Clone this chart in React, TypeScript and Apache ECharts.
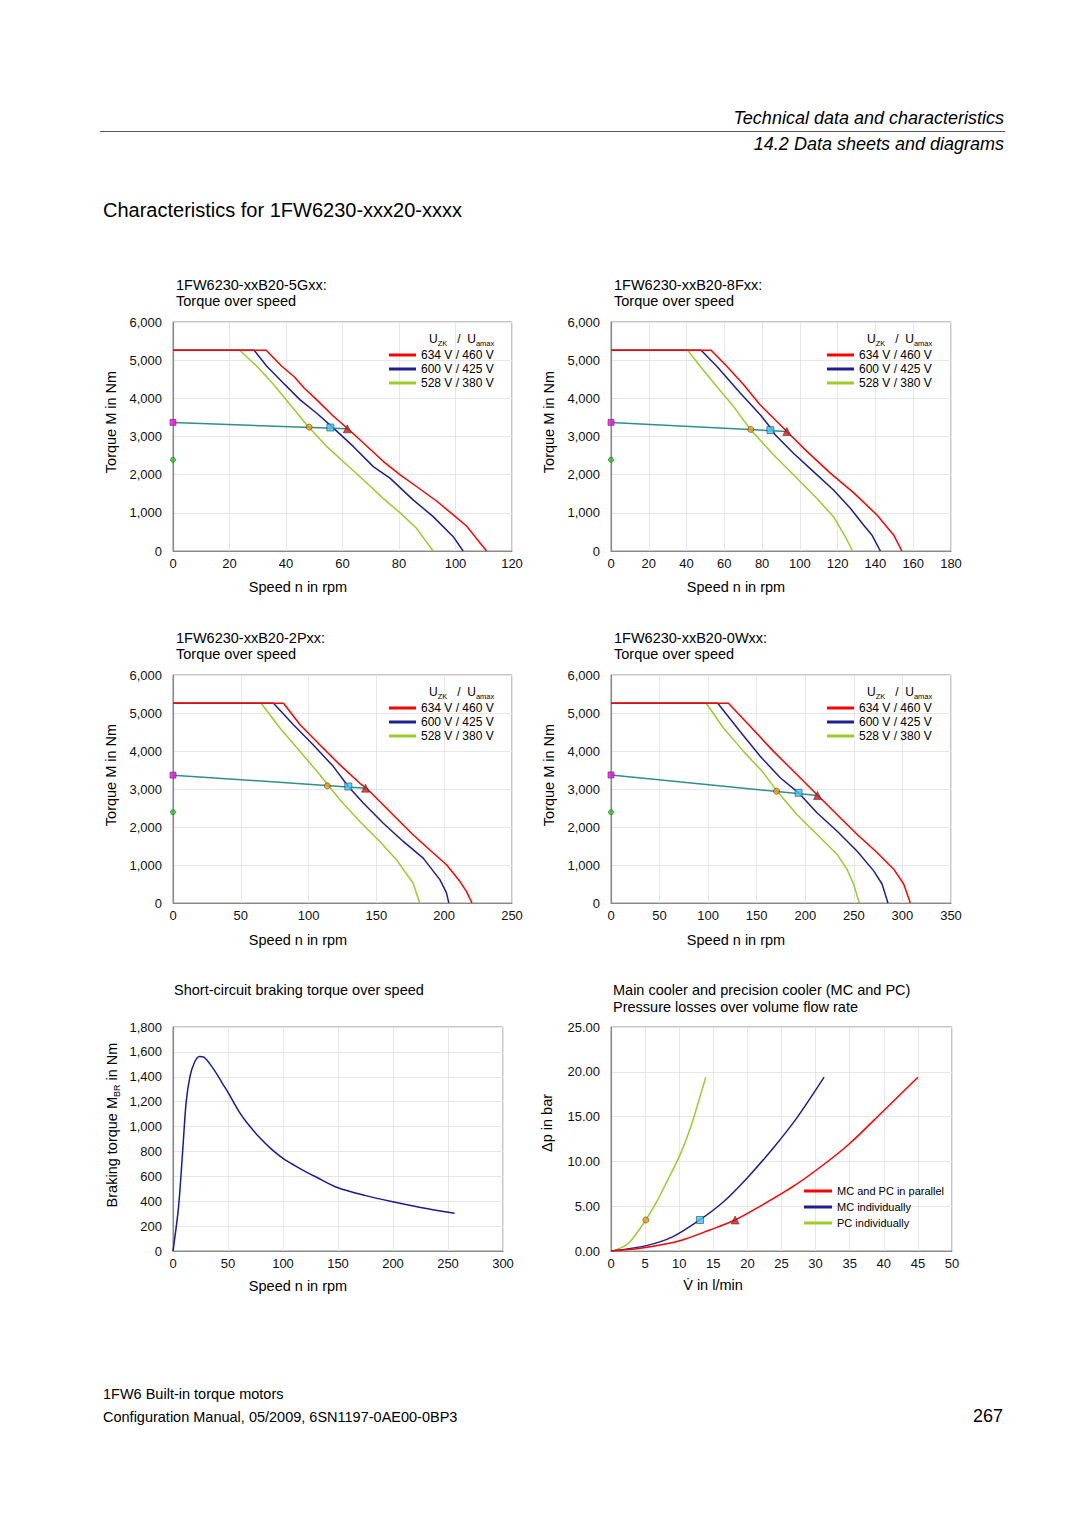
import React, { useEffect, useRef } from "react";
import * as echarts from "echarts";

const FONT = "'Liberation Sans', Arial, sans-serif";

// ---------- Text ----------
const motorTitles = ["1FW6230-xxB20-5Gxx:", "1FW6230-xxB20-8Fxx:", "1FW6230-xxB20-2Pxx:", "1FW6230-xxB20-0Wxx:"];
const voltageNames = ["634 V / 460 V", "600 V / 425 V", "528 V / 380 V"];
const coolerNames = ["MC and PC in parallel", "MC individually", "PC individually"];

// ---------- Axis ranges ----------
const motorXMax = [120, 180, 250, 350];
const motorXInterval = [20, 20, 50, 50];

// ---------- 1FW6230-xxB20-5Gxx ----------
const red5G: number[][] = [[0, 5260], [33, 5260], [38.5, 4840], [43, 4560], [46.4, 4270], [50.9, 3960], [56.8, 3530], [62.1, 3190], [67.4, 2830], [74.4, 2350], [80.3, 2000], [86.2, 1690], [93.3, 1310], [99.2, 945], [103.9, 655], [107.4, 330], [111, 0]];
const blue5G: number[][] = [[0, 5260], [28.7, 5260], [33.2, 4840], [38.5, 4440], [45, 3960], [50.9, 3610], [56.8, 3220], [63.8, 2740], [70.9, 2210], [76.8, 1910], [85, 1340], [92.1, 900], [99.2, 375], [102.7, 0]];
const green5G: number[][] = [[0, 5260], [23.6, 5260], [29.7, 4840], [35.6, 4360], [41.5, 3830], [47.3, 3310], [54.4, 2740], [61.5, 2260], [68.6, 1780], [74.4, 1380], [80.3, 1005], [86.2, 595], [89.2, 290], [92.1, 0]];
const pts5G: number[][] = [[0, 3370], [0, 2390], [48.2, 3245], [55.7, 3235], [61.7, 3200]];

// ---------- 1FW6230-xxB20-8Fxx ----------
const red8F: number[][] = [[0, 5260], [53, 5260], [61.3, 4840], [70.1, 4360], [78.9, 3830], [93.1, 3130], [103.7, 2610], [116.1, 2040], [128.4, 1530], [140.8, 945], [149.6, 420], [154, 0]];
const blue8F: number[][] = [[0, 5260], [47.7, 5260], [56, 4840], [68.4, 4140], [79, 3570], [85.1, 3190], [86.9, 3045], [96.6, 2560], [107.2, 2080], [117.8, 1600], [126.7, 1120], [133.7, 680], [138.1, 420], [142.6, 0]];
const green8F: number[][] = [[0, 5260], [40.6, 5260], [47.2, 4840], [56, 4310], [64.8, 3790], [73.7, 3190], [86, 2520], [96.6, 2000], [108.9, 1380], [117.8, 900], [124, 375], [127.9, 0]];
const pts8F: number[][] = [[0, 3370], [0, 2390], [74, 3185], [84.4, 3167], [93.1, 3132]];

// ---------- 1FW6230-xxB20-2Pxx ----------
const red2P: number[][] = [[0, 5255], [81.5, 5255], [93.7, 4690], [108.4, 4160], [123.1, 3635], [137.8, 3150], [142.7, 3020], [152.5, 2670], [164.8, 2230], [177, 1795], [191.9, 1315], [201.7, 1005], [211.5, 570], [216.4, 305], [220.5, 0]];
const blue2P: number[][] = [[0, 5255], [74.1, 5255], [88.8, 4690], [103.5, 4160], [118.3, 3590], [129.3, 3065], [140.3, 2630], [155.1, 2100], [169.8, 1620], [184.5, 1180], [196.8, 615], [201.7, 265], [203.4, 0]];
const green2P: number[][] = [[0, 5255], [65, 5255], [79, 4600], [93.7, 3985], [108.4, 3370], [123.1, 2715], [137.8, 2145], [152.5, 1620], [164.8, 1140], [170.9, 830], [177, 525], [182, 0]];
const pts2P: number[][] = [[0, 3365], [0, 2390], [113.8, 3083], [129.3, 3066], [142, 3022]];

// ---------- 1FW6230-xxB20-0Wxx ----------
const red0W: number[][] = [[0, 5258], [120.9, 5258], [143.2, 4650], [167.3, 3990], [191.3, 3380], [211.9, 2855], [232.6, 2330], [253.2, 1810], [273.8, 1330], [291, 890], [301.3, 500], [308.1, 0]];
const blue0W: number[][] = [[0, 5258], [109.9, 5258], [132.9, 4515], [153.6, 3860], [174.2, 3295], [193.1, 2900], [212, 2375], [232.6, 1895], [253.2, 1370], [270.4, 845], [279, 500], [285.1, 0]];
const green0W: number[][] = [[0, 5258], [97.9, 5258], [115.8, 4605], [136.4, 3990], [157, 3425], [170.8, 2945], [191.3, 2330], [211.9, 1810], [232.6, 1285], [242.9, 890], [249.7, 500], [255.6, 0]];
const pts0W: number[][] = [[0, 3370], [0, 2390], [170.4, 2943], [193.1, 2900], [212.6, 2830]];

// ---------- Short-circuit braking torque ----------
const brakeSpeed = [0, 5, 9, 12, 15.5, 19.5, 24, 28, 33, 40, 45, 50, 60, 70, 80, 90, 100, 110, 120, 130, 150, 175, 200, 225, 256];
const brakeTorque = [0, 350, 830, 1200, 1405, 1515, 1563, 1558, 1510, 1420, 1345, 1275, 1120, 1000, 900, 815, 745, 690, 640, 595, 508, 445, 395, 350, 303];

// ---------- Cooler pressure losses ----------
const parallelFlow: number[][] = [[0, 0], [4.25, 0.3], [10.1, 1.15], [14.5, 2.35], [18.2, 3.46], [21.8, 4.96], [26.7, 7.2], [31.1, 9.6], [35, 12], [39.9, 15.6], [45, 19.4]];
const mcFlow: number[][] = [[0, 0], [5.2, 0.6], [9.1, 1.6], [13, 3.46], [16.5, 5.5], [19.9, 8.1], [23.8, 11.5], [27.2, 14.8], [31.25, 19.4]];
const pcFlow: number[][] = [[0, 0], [1.3, 0.3], [2.8, 1.04], [5.1, 3.46], [6.7, 5.5], [8.2, 7.75], [10.1, 10.7], [11.8, 14.1], [13, 17.1], [13.9, 19.4]];
const coolerPts: number[][] = [[5.1, 3.46], [13.05, 3.46], [18.2, 3.46]];

const RED = "#ff0000";
const BLUE = "#1f1f8f";
const GREEN = "#9acc2a";
const TEAL = "#2e8f8f";

const markerStyles = [
  { symbol: "rect", size: 6, color: "#ff00ff" },
  { symbol: "circle", size: 5, color: "#11dd11" },
  { symbol: "circle", size: 6, color: "#ff9a00" },
  { symbol: "rect", size: 7, color: "#33ccff" },
  { symbol: "triangle", size: 8, color: "#dd1111" },
];

const grids = [
  { left: 173, top: 322, width: 339, height: 229 },
  { left: 611, top: 322, width: 340, height: 229 },
  { left: 173, top: 675, width: 339, height: 228 },
  { left: 611, top: 675, width: 340, height: 228 },
  { left: 173, top: 1027, width: 330, height: 224 },
  { left: 611, top: 1027, width: 341, height: 224 },
];

function txt(text: string, x: number, y: number, o: any = {}) {
  return {
    type: "text",
    x,
    y,
    rotation: o.rot || 0,
    z: 100,
    style: {
      text,
      fill: o.color || "#000",
      fontSize: o.size || 14,
      fontFamily: o.family || FONT,
      fontStyle: o.italic ? "italic" : "normal",
      align: o.align || "left",
      verticalAlign: "middle",
      rich: o.rich,
    },
  };
}

function buildOption() {
  const xAxis: any[] = [];
  const yAxis: any[] = [];
  const series: any[] = [];
  const legend: any[] = [];
  const graphic: any[] = [];

  const axisBase = (gi: number) => ({
    type: "value",
    gridIndex: gi,
    min: 0,
    axisLine: { show: true, onZero: false, lineStyle: { color: "#8a8a8a", width: 1.2 } },
    axisTick: { show: false },
    splitLine: { show: true, lineStyle: { color: "#e6e6e6", width: 1 } },
  });
  const xLabel = { color: "#111", fontSize: 13, fontFamily: FONT, margin: 6, showMaxLabel: true, showMinLabel: true };
  const yLabel = (fmt: (v: number) => string) => ({ color: "#111", fontSize: 13, fontFamily: FONT, margin: 11, formatter: fmt });
  const thousands = (v: number) => v.toLocaleString("en-US");

  const motorCurves = [
    [red5G, blue5G, green5G, pts5G],
    [red8F, blue8F, green8F, pts8F],
    [red2P, blue2P, green2P, pts2P],
    [red0W, blue0W, green0W, pts0W],
  ];
  const colX = [0, 438];
  motorCurves.forEach((c, i) => {
    const [red, blue, green, pts] = c as number[][][];
    xAxis.push({ ...axisBase(i), max: motorXMax[i], interval: motorXInterval[i], axisLabel: xLabel });
    yAxis.push({ ...axisBase(i), max: 6000, interval: 1000, axisLabel: yLabel(thousands) });
    const lineS = (name: string, data: number[][], color: string, z: number) => ({
      type: "line",
      name,
      xAxisIndex: i,
      yAxisIndex: i,
      data,
      showSymbol: false,
      symbol: "none",
      silent: true,
      z,
      color,
      lineStyle: { color, width: 1.5 },
      itemStyle: { color },
    });
    series.push(lineS(voltageNames[2], green, GREEN, 2));
    series.push(lineS(voltageNames[1], blue, BLUE, 3));
    series.push(lineS(voltageNames[0], red, RED, 4));
    series.push({ ...lineS("S1-" + i, [pts[0], pts[4]], TEAL, 5), lineStyle: { color: TEAL, width: 1.5 } });
    series.push({
      type: "scatter",
      name: "markers-" + i,
      xAxisIndex: i,
      yAxisIndex: i,
      silent: true,
      z: 6,
      data: pts.map((p, k) => ({
        value: p,
        symbol: markerStyles[k].symbol,
        symbolSize: markerStyles[k].size,
        itemStyle: { color: markerStyles[k].color, borderColor: "#333", borderWidth: 0.7 },
      })),
    });

    const ox = colX[i % 2];
    const rowY = i < 2 ? 0 : 353;
    legend.push({
      left: 389 + ox,
      top: 348 + rowY,
      orient: "vertical",
      padding: 0,
      data: voltageNames,
      icon: "rect",
      itemWidth: 27,
      itemHeight: 3,
      itemGap: 0,
      selectedMode: false,
      textStyle: { fontSize: 12, lineHeight: 14, fontFamily: FONT, color: "#000" },
    });
    graphic.push(
      txt("{u|U}{s|ZK}{u|   /  U}{s|amax}", 429 + ox, 339 + rowY, {
        rich: {
          u: { fontSize: 12, lineHeight: 16, fontFamily: FONT, fill: "#000", verticalAlign: "middle" },
          s: { fontSize: 7.5, lineHeight: 6, fontFamily: FONT, fill: "#000", verticalAlign: "bottom" },
        },
      })
    );
    graphic.push(txt(motorTitles[i], 176 + ox, 285 + rowY, { size: 14.5 }));
    graphic.push(txt("Torque over speed", 176 + ox, 301 + rowY, { size: 14.5 }));
    graphic.push(txt("Torque M in Nm", 111 + ox, 422 + rowY, { size: 14.5, rot: Math.PI / 2, align: "center" }));
    graphic.push(txt("Speed n in rpm", 298 + ox, 587 + rowY, { size: 14.5, align: "center" }));
  });

  // Braking torque chart
  xAxis.push({ ...axisBase(4), max: 300, interval: 50, axisLabel: xLabel });
  yAxis.push({ ...axisBase(4), max: 1800, interval: 200, axisLabel: yLabel(thousands) });
  series.push({
    type: "line",
    name: "brake",
    xAxisIndex: 4,
    yAxisIndex: 4,
    data: brakeSpeed.map((s, k) => [s, brakeTorque[k]]),
    showSymbol: false,
    symbol: "none",
    smooth: 0.3,
    silent: true,
    lineStyle: { color: "#1a1a9a", width: 1.5 },
    itemStyle: { color: "#1a1a9a" },
  });
  graphic.push(txt("Short-circuit braking torque over speed", 174, 990, { size: 14.5 }));
  graphic.push(
    txt("{n|Braking torque M}{s|BR}{n| in Nm}", 112, 1125, {
      rot: Math.PI / 2,
      align: "center",
      rich: {
        n: { fontSize: 14.5, lineHeight: 18, fontFamily: FONT, fill: "#000", verticalAlign: "middle" },
        s: { fontSize: 9, lineHeight: 6, fontFamily: FONT, fill: "#000", verticalAlign: "bottom" },
      },
    })
  );
  graphic.push(txt("Speed n in rpm", 298, 1286, { size: 14.5, align: "center" }));

  // Cooler chart
  xAxis.push({ ...axisBase(5), max: 50, interval: 5, axisLabel: xLabel });
  yAxis.push({ ...axisBase(5), max: 25, interval: 5, axisLabel: yLabel((v: number) => v.toFixed(2)) });
  const coolerSeries = [
    [coolerNames[2], pcFlow, GREEN],
    [coolerNames[1], mcFlow, BLUE],
    [coolerNames[0], parallelFlow, RED],
  ];
  coolerSeries.forEach(([name, data, color], k) => {
    series.push({
      type: "line",
      name,
      xAxisIndex: 5,
      yAxisIndex: 5,
      data,
      showSymbol: false,
      symbol: "none",
      smooth: 0.3,
      silent: true,
      z: 2 + k,
      color,
      lineStyle: { color, width: 1.5 },
      itemStyle: { color },
    });
  });
  const coolerMarker = [markerStyles[2], markerStyles[3], markerStyles[4]];
  series.push({
    type: "scatter",
    name: "cooler-markers",
    xAxisIndex: 5,
    yAxisIndex: 5,
    silent: true,
    z: 6,
    data: coolerPts.map((p, k) => ({
      value: p,
      symbol: coolerMarker[k].symbol,
      symbolSize: coolerMarker[k].size,
      itemStyle: { color: coolerMarker[k].color, borderColor: "#333", borderWidth: 0.7 },
    })),
  });
  legend.push({
    left: 804,
    top: 1184,
    orient: "vertical",
    padding: 0,
    data: coolerNames,
    icon: "rect",
    itemWidth: 28,
    itemHeight: 3,
    itemGap: 2,
    selectedMode: false,
    textStyle: { fontSize: 11, lineHeight: 14, fontFamily: FONT, color: "#000" },
  });
  graphic.push(txt("Main cooler and precision cooler (MC and PC)", 613, 990, { size: 14.5 }));
  graphic.push(txt("Pressure losses over volume flow rate", 613, 1007, { size: 14.5 }));
  graphic.push(txt("Δp in bar", 547, 1123, { size: 14.5, rot: Math.PI / 2, align: "center" }));
  graphic.push(txt("V\u0307 in l/min", 713, 1285, { size: 14.5, align: "center" }));

  // Page header & footer
  graphic.push(txt("Technical data and characteristics", 1004, 118, { size: 18, italic: true, align: "right" }));
  graphic.push({
    type: "line",
    shape: { x1: 100, y1: 131.5, x2: 1005, y2: 131.5 },
    style: { stroke: "#555", lineWidth: 1.2 },
  });
  graphic.push(txt("14.2 Data sheets and diagrams", 1004, 144, { size: 18, italic: true, align: "right" }));
  graphic.push(txt("Characteristics for 1FW6230-xxx20-xxxx", 103, 210, { size: 20 }));
  graphic.push(txt("1FW6 Built-in torque motors", 103, 1394, { size: 14.5 }));
  graphic.push(txt("Configuration Manual, 05/2009, 6SN1197-0AE00-0BP3", 103, 1417, { size: 14.5 }));
  graphic.push(txt("267", 1003, 1416, { size: 18, align: "right" }));

  return {
    animation: false,
    backgroundColor: "#ffffff",
    textStyle: { fontFamily: FONT },
    grid: grids.map((g) => ({ ...g, show: true, borderColor: "#8c8c8c", borderWidth: 1, containLabel: false })),
    xAxis,
    yAxis,
    legend,
    series,
    graphic,
  };
}

export default function App() {
  const ref = useRef<HTMLDivElement>(null);
  useEffect(() => {
    if (!ref.current) return;
    const chart = echarts.init(ref.current, null, { renderer: "svg" });
    chart.setOption(buildOption() as any);
    return () => chart.dispose();
  }, []);
  return (
    <div
      ref={ref}
      style={{ position: "absolute", left: 0, top: 0, width: 1080, height: 1527, background: "#fff" }}
    />
  );
}
